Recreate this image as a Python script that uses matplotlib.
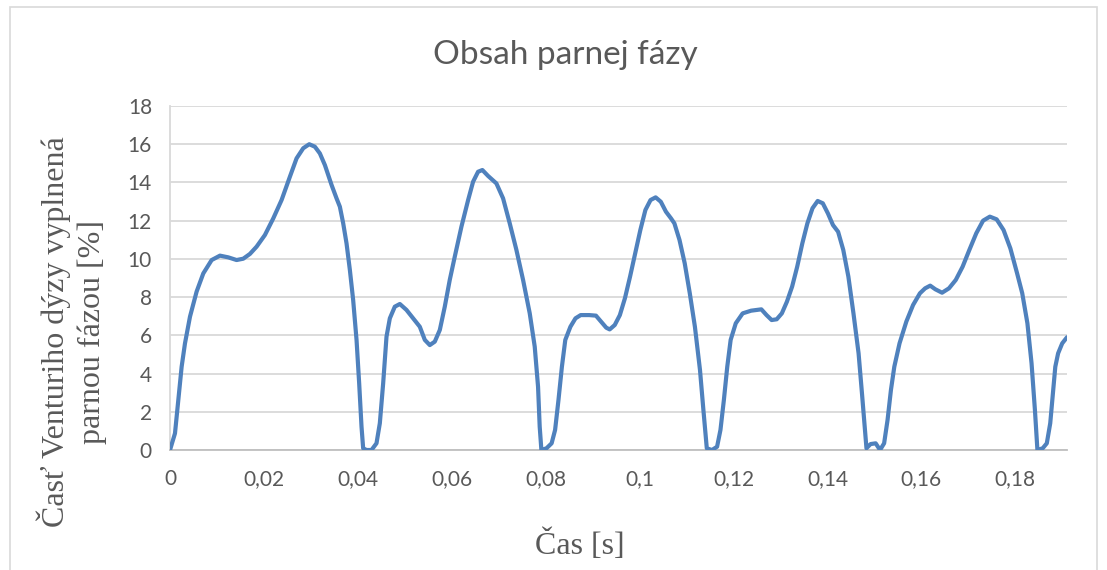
import matplotlib
matplotlib.use("Agg")
import matplotlib.pyplot as plt
from matplotlib.patches import Rectangle

# cas [s] a obsah parnej fazy [%] odcitane z grafu
cas = [0.0, 0.00106, 0.00177, 0.00248, 0.00319, 0.00426, 0.00567, 0.00709, 0.00887,
       0.01064, 0.01241, 0.01418, 0.0156, 0.01702, 0.01844, 0.02021, 0.02199, 0.02376,
       0.02553, 0.02695, 0.02837, 0.02965, 0.03085, 0.03191, 0.03298, 0.0344, 0.03546,
       0.03617, 0.03688, 0.03759, 0.0383, 0.039, 0.03972, 0.04028, 0.04078, 0.04113,
       0.04184, 0.04291, 0.04397, 0.04468, 0.04539, 0.0461, 0.04681, 0.04787, 0.04894,
       0.05035, 0.05177, 0.05319, 0.05426, 0.05532, 0.05638, 0.05745, 0.05851, 0.05957,
       0.06064, 0.06206, 0.06348, 0.06454, 0.0656, 0.06652, 0.06773, 0.0695, 0.07092,
       0.07234, 0.07376, 0.07518, 0.0766, 0.07766, 0.07837, 0.07872, 0.07908,
       0.08017, 0.08126, 0.082, 0.08272, 0.08345, 0.08417, 0.08526, 0.08634, 0.08745,
       0.08926, 0.0907, 0.09179, 0.09289, 0.09362, 0.0947, 0.09579, 0.09687, 0.09796,
       0.09906, 0.10015, 0.10123, 0.10232, 0.10341, 0.10451, 0.1056, 0.10668, 0.1074,
       0.10849, 0.1096, 0.11068, 0.11177, 0.11285, 0.11358, 0.1143, 0.1154, 0.11649,
       0.11721, 0.11794, 0.11866, 0.11938, 0.12047, 0.12194, 0.12374, 0.12592, 0.12702,
       0.12811, 0.12919, 0.13028, 0.13136, 0.13247, 0.13355, 0.13464, 0.13572, 0.13681,
       0.13791, 0.139, 0.14009, 0.14117, 0.14226, 0.14336, 0.14445, 0.14553, 0.14662,
       0.14734, 0.1483, 0.14917, 0.15026, 0.15119, 0.15206, 0.15279, 0.15351, 0.15423,
       0.15534, 0.15679, 0.15823, 0.15968, 0.16079, 0.16187, 0.16296, 0.1644, 0.16587,
       0.16732, 0.16877, 0.17021, 0.17168, 0.17313, 0.17457, 0.17602, 0.17749, 0.17894,
       0.18038, 0.18147, 0.18257, 0.18345, 0.18417, 0.1847, 0.18583, 0.1867, 0.18743,
       0.188, 0.18851, 0.18911, 0.18998, 0.191]
obsah = [0.0, 0.87, 2.62, 4.36, 5.58, 6.98, 8.29, 9.24, 9.94,
         10.17, 10.08, 9.94, 10.01, 10.26, 10.64, 11.25, 12.12, 13.08,
         14.3, 15.26, 15.79, 16.0, 15.87, 15.52, 14.91, 13.87, 13.17,
         12.73, 11.86, 10.81, 9.42, 7.85, 5.76, 3.49, 1.22, 0.09,
         0.0, 0.0, 0.35, 1.4, 3.49, 5.93, 6.89, 7.5, 7.64,
         7.33, 6.89, 6.45, 5.76, 5.49, 5.67, 6.28, 7.5, 8.9,
         10.12, 11.69, 13.08, 14.04, 14.56, 14.65, 14.34, 13.95, 13.17,
         11.86, 10.47, 8.9, 7.15, 5.41, 3.31, 1.22, 0.0,
         0.09, 0.35, 1.05, 2.62, 4.36, 5.76, 6.45, 6.89, 7.06,
         7.06, 7.03, 6.72, 6.4, 6.31, 6.54, 7.06, 7.94, 9.07,
         10.29, 11.51, 12.56, 13.08, 13.22, 12.99, 12.47, 12.12, 11.86,
         10.99, 9.77, 8.2, 6.45, 4.19, 2.09, 0.09, 0.0, 0.17,
         1.05, 2.62, 4.36, 5.76, 6.63, 7.15, 7.29, 7.36, 7.06,
         6.8, 6.84, 7.15, 7.76, 8.55, 9.59, 10.81, 11.86, 12.65,
         13.03, 12.91, 12.38, 11.77, 11.42, 10.47, 9.07, 7.15, 5.06,
         2.97, 0.09, 0.31, 0.35, 0.0, 0.35, 1.57, 3.14, 4.36,
         5.58, 6.72, 7.59, 8.2, 8.46, 8.6, 8.41, 8.23, 8.46,
         8.9, 9.59, 10.47, 11.34, 12.0, 12.21, 12.07, 11.51, 10.55,
         9.24, 8.2, 6.63, 4.54, 2.09, 0.0, 0.09, 0.35, 1.4,
         2.97, 4.36, 5.06, 5.58, 5.9]

x_ticks = [0, 0.02, 0.04, 0.06, 0.08, 0.1, 0.12, 0.14, 0.16, 0.18]
x_labels = ["0", "0,02", "0,04", "0,06", "0,08", "0,1", "0,12", "0,14", "0,16", "0,18"]
y_ticks = [0, 2, 4, 6, 8, 10, 12, 14, 16, 18]

sivy = "#595959"
sans = ["Lato", "DejaVu Sans"]
serif = ["Liberation Serif", "DejaVu Serif"]

fig = plt.figure(figsize=(11.07, 5.70), dpi=100)
fig.patches.append(Rectangle((10 / 1107, -0.05), 1087 / 1107, 1 - 7 / 570 + 0.05,
                             transform=fig.transFigure, fill=False,
                             edgecolor="#d9d9d9", linewidth=1.2))

ax = fig.add_axes([170 / 1107, 1 - 450 / 570, 897 / 1107, 344 / 570])
ax.plot(cas, obsah, color="#4f81bd", linewidth=3.0,
        solid_joinstyle="round", solid_capstyle="round", zorder=3)

ax.set_xlim(0, 0.191)
ax.set_ylim(0, 18)
ax.set_xticks(x_ticks)
ax.set_xticklabels(x_labels)
ax.set_yticks(y_ticks)
ax.grid(axis="y", color="#d9d9d9", linewidth=1.3)
ax.set_axisbelow(True)
for s in ["top", "right"]:
    ax.spines[s].set_visible(False)
ax.spines["bottom"].set_color("#bfbfbf")
ax.spines["bottom"].set_linewidth(1.3)
ax.spines["left"].set_color("#d9d9d9")
ax.spines["left"].set_linewidth(1.3)
ax.tick_params(axis="both", length=0, labelsize=15, labelcolor=sivy)
ax.tick_params(axis="x", pad=14)
ax.tick_params(axis="y", pad=13)
for lab in ax.get_xticklabels() + ax.get_yticklabels():
    lab.set_family(sans)

fig.text(565 / 1107, 1 - 55 / 570, "Obsah parnej fázy", ha="center", va="center",
         fontsize=24, color=sivy, family=sans)
fig.text(580 / 1107, 1 - 545 / 570, "Čas [s]", ha="center", va="center",
         fontsize=23, color=sivy, family=serif)
fig.text(72 / 1107, 1 - 332 / 570, "Časť Venturiho dýzy vyplnená\nparnou fázou [%]",
         ha="center", va="center", rotation=90, multialignment="center",
         linespacing=1.3, fontsize=23, color=sivy, family=serif)

fig.savefig("out.png", dpi=100)
